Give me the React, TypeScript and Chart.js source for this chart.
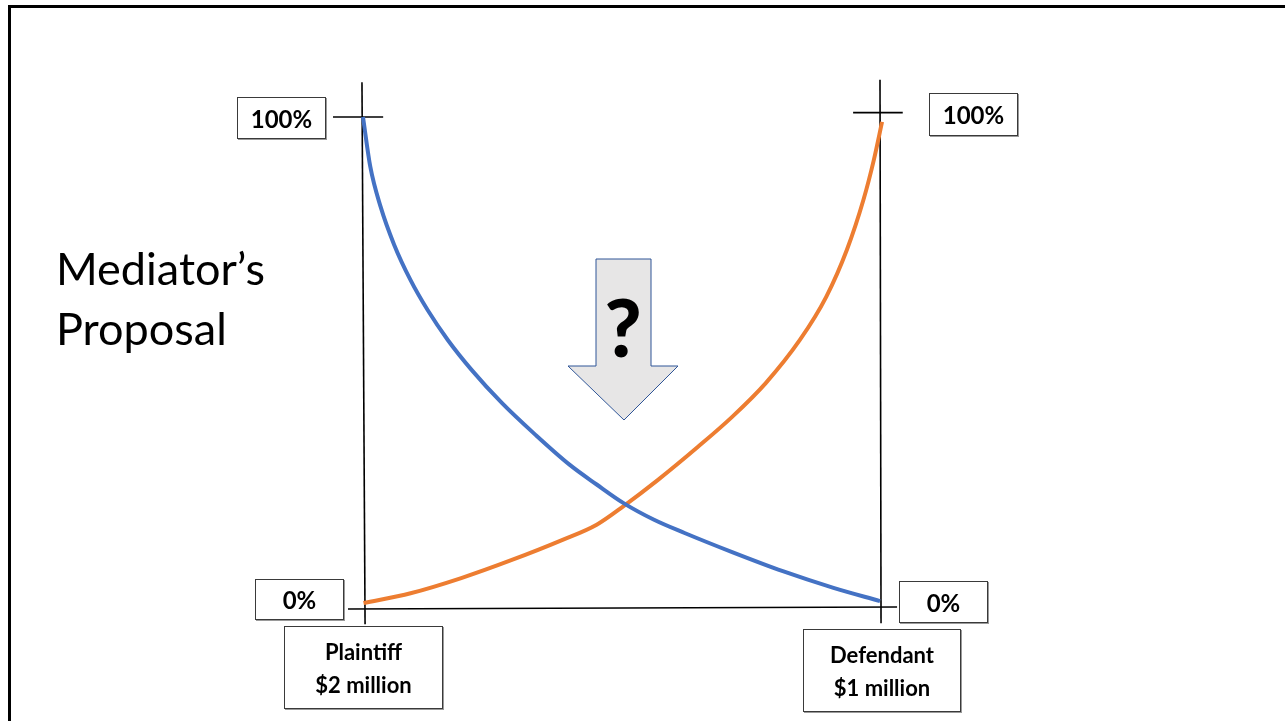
import React, { useEffect, useRef } from "react";
import { Chart, registerables } from "chart.js";

Chart.register(...registerables);

// Position between the two parties (0 = Plaintiff, 1 = Defendant)
const plaintiffX = [0, 0.014, 0.034, 0.06, 0.092, 0.125, 0.164, 0.21, 0.269, 0.334, 0.4, 0.452, 0.504, 0.563, 0.622, 0.714, 0.812, 0.91, 1.0];
// Probability (%) – blue curve
const plaintiffY = [100, 89.9, 81.7, 74.0, 66.7, 60.6, 54.5, 48.4, 41.6, 35.1, 29.0, 25.0, 21.2, 17.8, 15.1, 11.2, 7.3, 3.9, 1.2];

const defendantX = [0.001, 0.092, 0.19, 0.288, 0.386, 0.452, 0.504, 0.57, 0.648, 0.714, 0.779, 0.845, 0.896, 0.936, 0.968, 0.988, 1.004];
// Probability (%) – orange curve
const defendantY = [0.8, 2.8, 5.9, 9.6, 13.7, 16.8, 20.6, 25.9, 32.7, 38.8, 45.7, 54.5, 63.3, 72.9, 83.1, 91.2, 99.0];

const yMin = 0;
const yMax = 100;
const topTickLabel = "100%";
const bottomTickLabel = "0%";
const leftParty = ["Plaintiff", "$2 million"];
const rightParty = ["Defendant", "$1 million"];
const titleLines = ["Mediator\u2019s", "Proposal"];

const axesPlugin = {
  id: "axesCross",
  beforeDatasetsDraw(chart: any) {
    const { ctx, scales } = chart;
    const xs = scales.x;
    const ys = scales.y;
    const seg = (x1: number, y1: number, x2: number, y2: number) => {
      ctx.beginPath();
      ctx.moveTo(xs.getPixelForValue(x1), ys.getPixelForValue(y1));
      ctx.lineTo(xs.getPixelForValue(x2), ys.getPixelForValue(y2));
      ctx.stroke();
    };
    ctx.save();
    ctx.strokeStyle = "#000";
    ctx.lineWidth = 1.6;
    // left vertical axis
    seg(-0.002, 107.1, 0.004, -3.5);
    // right vertical axis
    seg(1.0, 107.6, 1.002, -3.3);
    // top ticks
    seg(-0.058, 100, 0.039, 100);
    seg(0.948, 100.9, 1.044, 100.9);
    // bottom base line
    seg(-0.029, -0.4, 1.033, 0);
    ctx.restore();
  },
};

const boxStyle = (left: number, top: number, width: number, height: number): React.CSSProperties => ({
  position: "absolute",
  left,
  top,
  width,
  height,
  boxSizing: "border-box",
  border: "1px solid #3a3a3a",
  boxShadow: "1px 1px 0 #9a9a9a",
  background: "#fff",
  display: "flex",
  flexDirection: "column",
  alignItems: "center",
  justifyContent: "center",
  fontFamily: "Lato, 'Open Sans', sans-serif",
  fontWeight: 700,
  color: "#000",
});

export default function App() {
  const canvasRef = useRef<HTMLCanvasElement | null>(null);

  useEffect(() => {
    if (!canvasRef.current) return;
    const chart = new Chart(canvasRef.current, {
      type: "scatter",
      data: {
        datasets: [
          {
            label: "Plaintiff",
            data: plaintiffX.map((x, i) => ({ x, y: plaintiffY[i] })),
            showLine: true,
            borderColor: "#4472C4",
            borderWidth: 4,
            pointRadius: 0,
            cubicInterpolationMode: "monotone",
            clip: false,
          } as any,
          {
            label: "Defendant",
            data: defendantX.map((x, i) => ({ x, y: defendantY[i] })),
            showLine: true,
            borderColor: "#ED7D31",
            borderWidth: 4,
            pointRadius: 0,
            cubicInterpolationMode: "monotone",
            clip: false,
          } as any,
        ],
      },
      options: {
        responsive: false,
        animation: false,
        layout: { padding: { left: 363, right: 405, top: 117, bottom: 114 } },
        scales: {
          x: { type: "linear", min: 0, max: 1, display: false },
          y: { type: "linear", min: yMin, max: yMax, display: false },
        },
        plugins: { legend: { display: false }, tooltip: { enabled: false } },
      },
      plugins: [axesPlugin],
    });
    return () => chart.destroy();
  }, []);

  return (
    <div style={{ position: "absolute", left: 0, top: 0, width: 1285, height: 721, overflow: "hidden", background: "#fff" }}>
      <div
        style={{
          position: "absolute",
          left: 8,
          top: 5,
          width: 1290,
          height: 730,
          borderTop: "3px solid #000",
          borderLeft: "3px solid #000",
        }}
      />
      <canvas ref={canvasRef} width={1285} height={721} style={{ position: "absolute", left: 0, top: 0 }} />

      <div
        style={{
          position: "absolute",
          left: 56,
          top: 238,
          fontFamily: "Lato, 'Open Sans', sans-serif",
          fontSize: 45,
          lineHeight: "60px",
          color: "#000",
        }}
      >
        {titleLines.map((t) => (
          <div key={t}>{t}</div>
        ))}
      </div>

      <div style={{ ...boxStyle(237, 97, 89, 42), fontSize: 24 }}>{topTickLabel}</div>
      <div style={{ ...boxStyle(929, 93, 89, 43), fontSize: 24 }}>{topTickLabel}</div>
      <div style={{ ...boxStyle(255, 579, 89, 41), fontSize: 24 }}>{bottomTickLabel}</div>
      <div style={{ ...boxStyle(899, 581, 89, 42), fontSize: 24 }}>{bottomTickLabel}</div>

      <div style={{ ...boxStyle(284, 626, 159, 83), fontSize: 22, lineHeight: "33px" }}>
        {leftParty.map((t) => (
          <div key={t}>{t}</div>
        ))}
      </div>
      <div style={{ ...boxStyle(803, 629, 158, 83), fontSize: 22, lineHeight: "33px" }}>
        {rightParty.map((t) => (
          <div key={t}>{t}</div>
        ))}
      </div>

      <svg width={1285} height={721} style={{ position: "absolute", left: 0, top: 0, pointerEvents: "none" }}>
        <polygon
          points="596,259 651,259 651,366 678,366 624,420 568,366 596,366"
          fill="#E7E6E6"
          stroke="#2F5597"
          strokeWidth={1}
        />
        <text
          x={623}
          y={357}
          textAnchor="middle"
          fontFamily="Lato, 'Open Sans', sans-serif"
          fontWeight={900}
          fontSize={80}
          fill="#000"
        >
          ?
        </text>
      </svg>
    </div>
  );
}
